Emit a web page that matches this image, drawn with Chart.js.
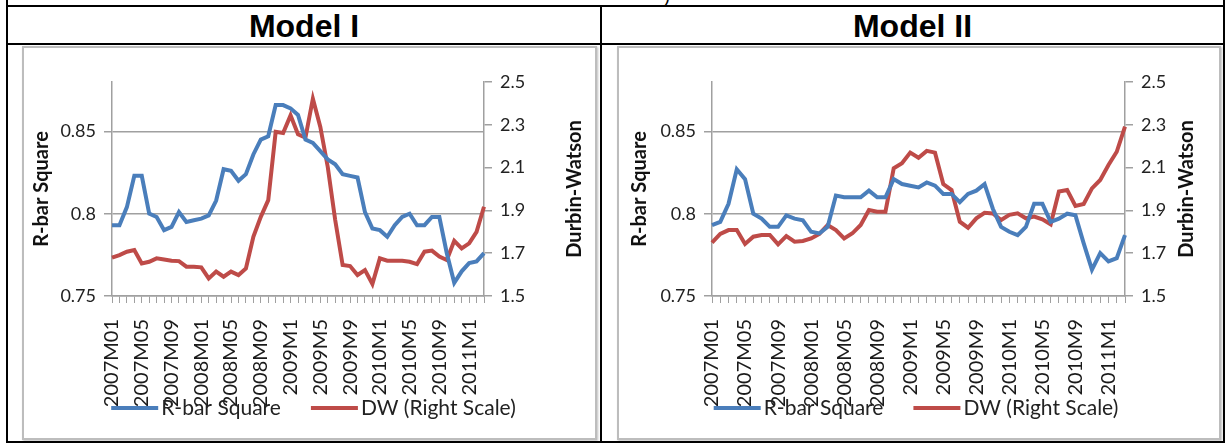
<!DOCTYPE html>
<html>
<head>
<meta charset="utf-8">
<script src="https://cdn.jsdelivr.net/npm/chart.js@4.4.1/dist/chart.umd.min.js"></script>
<style>
  body { margin: 0; background: #fff; width: 1226px; height: 444px; overflow: hidden; position: relative; }
  .hl, .vl { position: absolute; background: #000; }
  .title { position: absolute; top: 8px; height: 38px; line-height: 38px; text-align: center;
           font: bold 32px "Liberation Sans", Arial, sans-serif; color: #000; }
  .box { position: absolute; top: 46px; height: 390px; border: 2px solid #bdbdbd;
         box-shadow: 1px 1px 2px rgba(0,0,0,0.25); background: #fff; }
  .box canvas { position: absolute; left: 0; top: 0; }
  .cut { position: absolute; left: 664px; top: -14px; font: 18px "Liberation Sans", Arial, sans-serif; }
</style>
</head>
<body>
<div class="cut">)</div>
<!-- lignes du tableau -->
<div class="hl" style="left:6px; top:5px; width:1219px; height:2px;"></div>
<div class="hl" style="left:6px; top:43px; width:1219px; height:2px;"></div>
<div class="hl" style="left:6px; top:441px; width:1219px; height:2px;"></div>
<div class="vl" style="left:6px; top:0; width:2px; height:443px;"></div>
<div class="vl" style="left:600px; top:5px; width:2px; height:438px;"></div>
<div class="vl" style="left:1223px; top:0; width:2px; height:443px;"></div>

<div class="title" style="left:8px; width:592px;">Model I</div>
<div class="title" style="left:602px; width:621px;">Model II</div>

<div class="box" style="left:22px; width:571px;"><canvas id="g1" width="571" height="390"></canvas></div>
<div class="box" style="left:617px; width:600px;"><canvas id="g2" width="600" height="390"></canvas></div>

<script>
// Meses (51 puntos)
const categorias = [
  '2007M01','2007M02','2007M03','2007M04','2007M05','2007M06','2007M07','2007M08','2007M09','2007M10','2007M11','2007M12',
  '2008M01','2008M02','2008M03','2008M04','2008M05','2008M06','2008M07','2008M08','2008M09','2008M10','2008M11','2008M12',
  '2009M1','2009M2','2009M3','2009M4','2009M5','2009M6','2009M7','2009M8','2009M9','2009M10','2009M11','2009M12',
  '2010M1','2010M2','2010M3','2010M4','2010M5','2010M6','2010M7','2010M8','2010M9','2010M10','2010M11','2010M12',
  '2011M1','2011M2','2011M3'
];

// Modelo I
const rbarModelo1 = [0.793,0.793,0.804,0.823,0.823,0.800,0.798,0.790,0.792,0.801,0.795,0.796,0.797,0.799,0.808,0.827,0.826,
  0.820,0.824,0.836,0.845,0.847,0.866,0.866,0.864,0.860,0.845,0.843,0.838,0.833,0.830,0.824,0.823,0.822,0.801,0.791,0.790,
  0.786,0.793,0.798,0.800,0.793,0.793,0.798,0.798,0.776,0.758,0.765,0.770,0.771,0.776];
const dwModelo1 = [1.679,1.691,1.707,1.715,1.652,1.660,1.676,1.671,1.665,1.663,1.637,1.637,1.634,1.582,1.614,1.590,1.614,
  1.598,1.629,1.777,1.870,1.948,2.267,2.262,2.344,2.256,2.240,2.422,2.290,2.103,1.855,1.645,1.640,1.598,1.621,1.556,1.676,
  1.665,1.665,1.665,1.660,1.649,1.707,1.712,1.684,1.668,1.758,1.722,1.746,1.800,1.917];

// Modelo II
const rbarModelo2 = [0.793,0.795,0.806,0.827,0.821,0.800,0.797,0.792,0.792,0.799,0.797,0.796,0.789,0.788,0.792,0.811,0.810,
  0.810,0.810,0.814,0.810,0.810,0.821,0.818,0.817,0.816,0.819,0.817,0.812,0.812,0.807,0.812,0.814,0.818,0.803,0.792,0.789,
  0.787,0.792,0.806,0.806,0.795,0.797,0.800,0.799,0.782,0.766,0.776,0.771,0.773,0.787];
const dwModelo2 = [1.749,1.790,1.808,1.808,1.743,1.777,1.785,1.785,1.741,1.780,1.754,1.757,1.769,1.790,1.832,1.808,1.769,
  1.793,1.832,1.902,1.894,1.894,2.097,2.120,2.170,2.146,2.178,2.170,2.023,1.995,1.847,1.819,1.863,1.889,1.886,1.855,1.879,
  1.886,1.863,1.871,1.858,1.835,1.988,1.995,1.921,1.930,2.003,2.042,2.112,2.174,2.291];

// Marcas de los ejes
const ticksIzq = [0.75, 0.8, 0.85];
const ticksDer = [1.5, 1.7, 1.9, 2.1, 2.3, 2.5];

const azul = '#4a7ebb';
const rojo = '#be4b48';
const gris = '#a0a0a0';
const fuente = 'Lato, "Open Sans", sans-serif';

// Titulos de los ejes verticales (los dos se leen de abajo hacia arriba)
const titulosEjes = {
  id: 'titulosEjes',
  afterDraw(chart, args, opts) {
    const ctx = chart.ctx;
    const a = chart.chartArea;
    const yc = (a.top + a.bottom) / 2;
    ctx.save();
    ctx.font = 'bold 20px ' + fuente;
    ctx.fillStyle = '#111';
    ctx.textAlign = 'center';
    ctx.textBaseline = 'middle';
    [[a.left - opts.izqDist, opts.izq], [a.right + opts.derDist, opts.der]].forEach(([x, txt]) => {
      ctx.save();
      ctx.translate(x, yc);
      ctx.rotate(-Math.PI / 2);
      ctx.fillText(txt, 0, 0);
      ctx.restore();
    });
    ctx.restore();
  }
};

// Leyenda encima de las etiquetas del eje x, como en el original
const leyendaBaja = {
  id: 'leyendaBaja',
  afterDraw(chart, args, opts) {
    const ctx = chart.ctx;
    const linea = 47, hueco = 3, sep = 30;
    ctx.save();
    ctx.font = '21px ' + fuente;
    ctx.textBaseline = 'middle';
    const items = chart.data.datasets.map(d => ({ txt: d.label, color: d.borderColor, w: ctx.measureText(d.label).width }));
    const total = items.reduce((s, it) => s + linea + hueco + it.w, 0) + sep * (items.length - 1);
    let x = chart.width / 2 - total / 2 + opts.desplaza;
    const y = chart.chartArea.bottom + opts.abajo;
    items.forEach(it => {
      ctx.strokeStyle = it.color;
      ctx.lineWidth = 4;
      ctx.beginPath();
      ctx.moveTo(x, y);
      ctx.lineTo(x + linea, y);
      ctx.stroke();
      x += linea + hueco;
      ctx.fillStyle = '#222';
      ctx.fillText(it.txt, x, y);
      x += it.w + sep;
    });
    ctx.restore();
  }
};

function crearGrafica(id, rbar, dw, anchoIzq, anchoDer, izqDist, derDist, desplaza) {
  const ctx = document.getElementById(id).getContext('2d');
  return new Chart(ctx, {
    type: 'line',
    data: {
      labels: categorias,
      datasets: [
        { label: 'R-bar Square', data: rbar, yAxisID: 'y', borderColor: azul, backgroundColor: azul,
          borderWidth: 4, pointRadius: 0, tension: 0 },
        { label: 'DW (Right Scale)', data: dw, yAxisID: 'y2', borderColor: rojo, backgroundColor: rojo,
          borderWidth: 4, pointRadius: 0, tension: 0 }
      ]
    },
    options: {
      responsive: false,
      animation: false,
      devicePixelRatio: 1,
      layout: { padding: { top: 34, left: 0, right: 0, bottom: 0 } },
      plugins: {
        tooltip: { enabled: false },
        legend: { display: false },
        titulosEjes: { izq: 'R-bar Square', der: 'Durbin-Watson', izqDist: izqDist, derDist: derDist },
        leyendaBaja: { abajo: 112, desplaza: desplaza }
      },
      scales: {
        x: {
          grid: { drawOnChartArea: false, drawTicks: true, tickLength: 7, color: gris },
          border: { color: gris, width: 1.5 },
          ticks: {
            autoSkip: false, minRotation: 90, maxRotation: 90, padding: 16,
            font: { family: fuente, size: 20 }, color: '#1a1a1a',
            callback: function(v, i) { return i % 4 === 0 ? this.getLabelForValue(v) : ''; }
          },
          afterFit(s) { s.height = 142; }
        },
        y: {
          position: 'left', min: 0.75, max: 0.88,
          grid: { color: gris, lineWidth: 1.5, tickLength: 8 },
          border: { color: gris, width: 1.5 },
          ticks: { font: { family: fuente, size: 18 }, color: '#222', padding: 8,
                   callback: v => String(v) },
          afterBuildTicks(s) { s.ticks = ticksIzq.map(v => ({ value: v })); },
          afterFit(s) { s.width = anchoIzq; }
        },
        y2: {
          position: 'right', min: 1.5, max: 2.5,
          grid: { drawOnChartArea: false, color: gris, lineWidth: 1.5, tickLength: 8 },
          border: { color: gris, width: 1.5 },
          ticks: { font: { family: fuente, size: 18 }, color: '#222', padding: 8,
                   callback: v => v.toFixed(1) },
          afterBuildTicks(s) { s.ticks = ticksDer.map(v => ({ value: v })); },
          afterFit(s) { s.width = anchoDer; }
        }
      }
    },
    plugins: [titulosEjes, leyendaBaja]
  });
}

crearGrafica('g1', rbarModelo1, dwModelo1, 88, 111, 70, 91, 4);
crearGrafica('g2', rbarModelo2, dwModelo2, 93, 94, 72, 62, -3);
</script>
</body>
</html>
